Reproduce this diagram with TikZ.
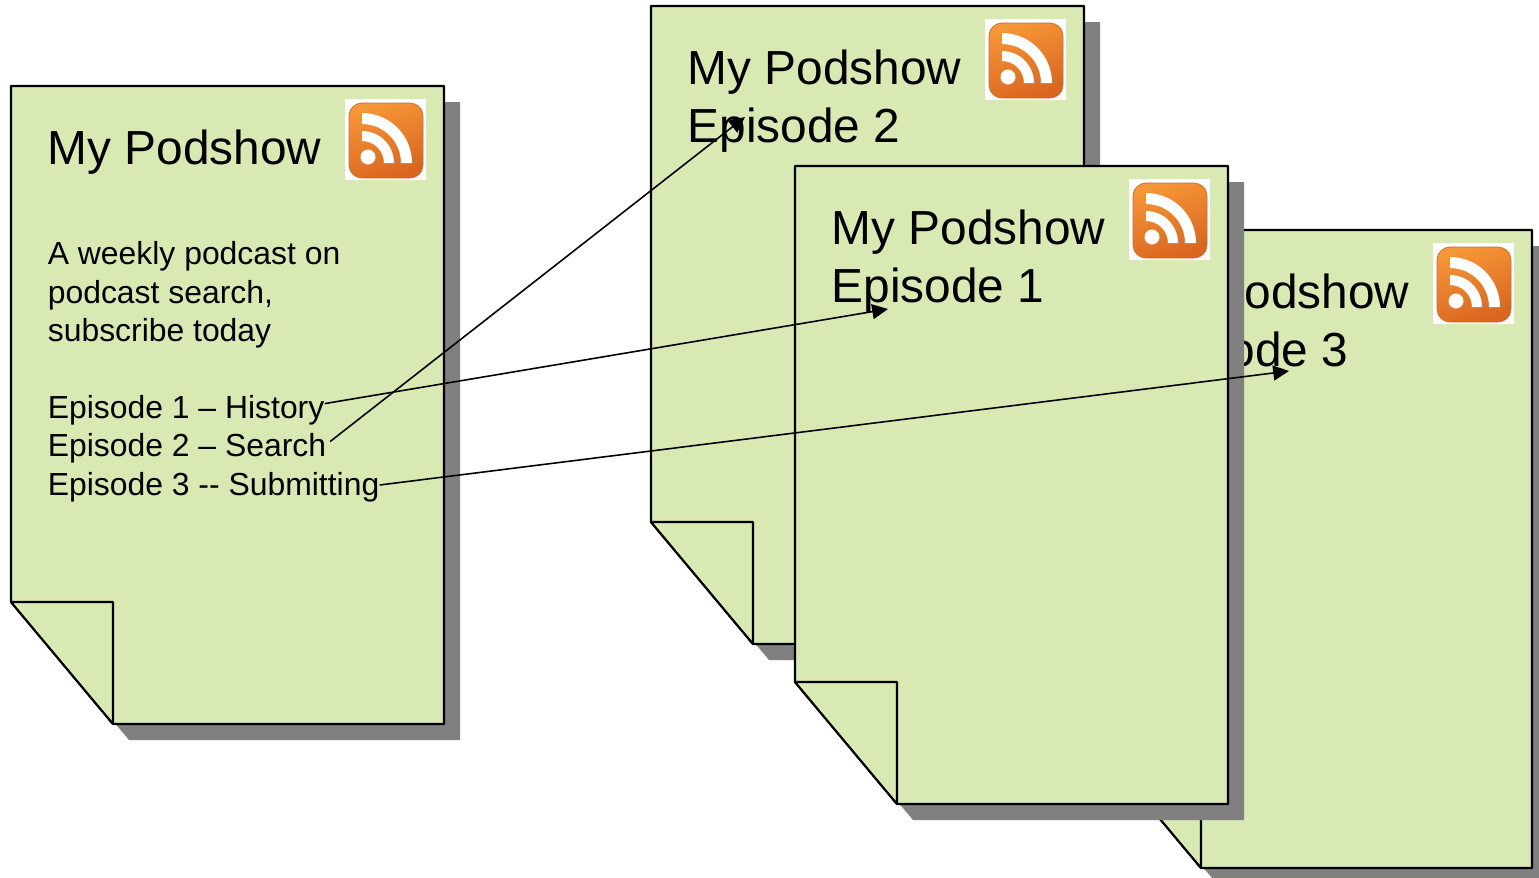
\documentclass[tikz,border=0pt]{standalone}
\usepackage{fontspec}
\setmainfont{Liberation Sans}
\usetikzlibrary{arrows.meta}
\definecolor{pagegreen}{RGB}{217,233,179}
\definecolor{rssdark}{RGB}{217,101,32}
\definecolor{rsslight}{RGB}{245,150,55}
\tikzset{
    pageshadow/.style={fill=gray},
    pagesheet/.style={fill=pagegreen, draw=black, line width=1.2pt, line join=round},
    titletext/.style={anchor=base west, inner sep=0pt, font=\fontsize{27.2}{33}\selectfont},
    bodytext/.style={anchor=base west, inner sep=0pt, font=\fontsize{18.15}{22}\selectfont},
    linkarrow/.style={draw=black, line width=0.9pt, -{Triangle[length=9pt,width=8.5pt]}}
}
% one sheet with its folded corner and the feed icon
\newcommand{\podpage}{
    \fill[pageshadow] (27,102) -- (460,102) -- (460,740) -- (129,740) -- (27,618) -- cycle;
    \draw[pagesheet] (11,86) -- (444,86) -- (444,724) -- (113,724) -- (11,602) -- cycle;
    \draw[pagesheet] (11,602) -- (113,602) -- (113,724) -- cycle;
    \fill[white] (345,99) rectangle (426,180);
    \shade[left color=rsslight, right color=rssdark, shading angle=20, rounded corners=2.6mm, draw=rssdark!80!gray, line width=0.4pt] (349,103) rectangle (423,178);
    \fill[white] (362,113) arc (-90:0:50) -- (401,163) arc (0:-90:39) -- cycle;
    \fill[white] (362,131) arc (-90:0:32) -- (384,163) arc (0:-90:22) -- cycle;
    \fill[white] (368,157) circle (7.5);
}
\begin{document}
\begin{tikzpicture}[x=0.02cm, y=-0.02cm]
    \useasboundingbox (0,0) rectangle (1539,877);

    \begin{scope}
        \podpage
        \node[titletext] (mainTitle) at (47.5,164) {My Podshow};
        \node[bodytext] (descA) at (47.5,264.5) {A weekly podcast on};
        \node[bodytext] (descB) at (47.5,303) {podcast search,};
        \node[bodytext] (descC) at (47.5,341) {subscribe today};
        \node[bodytext] (itemOne) at (47.5,418) {Episode 1 -- History};
        \node[bodytext] (itemTwo) at (47.5,456) {Episode 2 -- Search};
        \node[bodytext] (itemThree) at (47.5,495) {Episode 3 {-}{-} Submitting};
    \end{scope}

    \foreach \ep/\dx/\dy/\num in {Two/640/-80/2, Three/1088/144/3, One/784/80/1} {
        \begin{scope}[shift={(\dx,\dy)}]
            \podpage
            \node[titletext] (title\ep) at (47.5,164) {My Podshow};
            \node[titletext] (page\ep) at (47.5,222) {Episode \num};
        \end{scope}
    }

    \coordinate (endOne) at (888,309);
    \coordinate (endTwo) at (745,117);
    \coordinate (endThree) at (1289,371);

    \draw[linkarrow] ([yshift=3.5pt]itemOne.east) -- (endOne);
    \draw[linkarrow] ([xshift=2pt,yshift=3.5pt]itemTwo.east) -- (endTwo);
    \draw[linkarrow] ([yshift=1pt]itemThree.east) -- (endThree);
\end{tikzpicture}
\end{document}
